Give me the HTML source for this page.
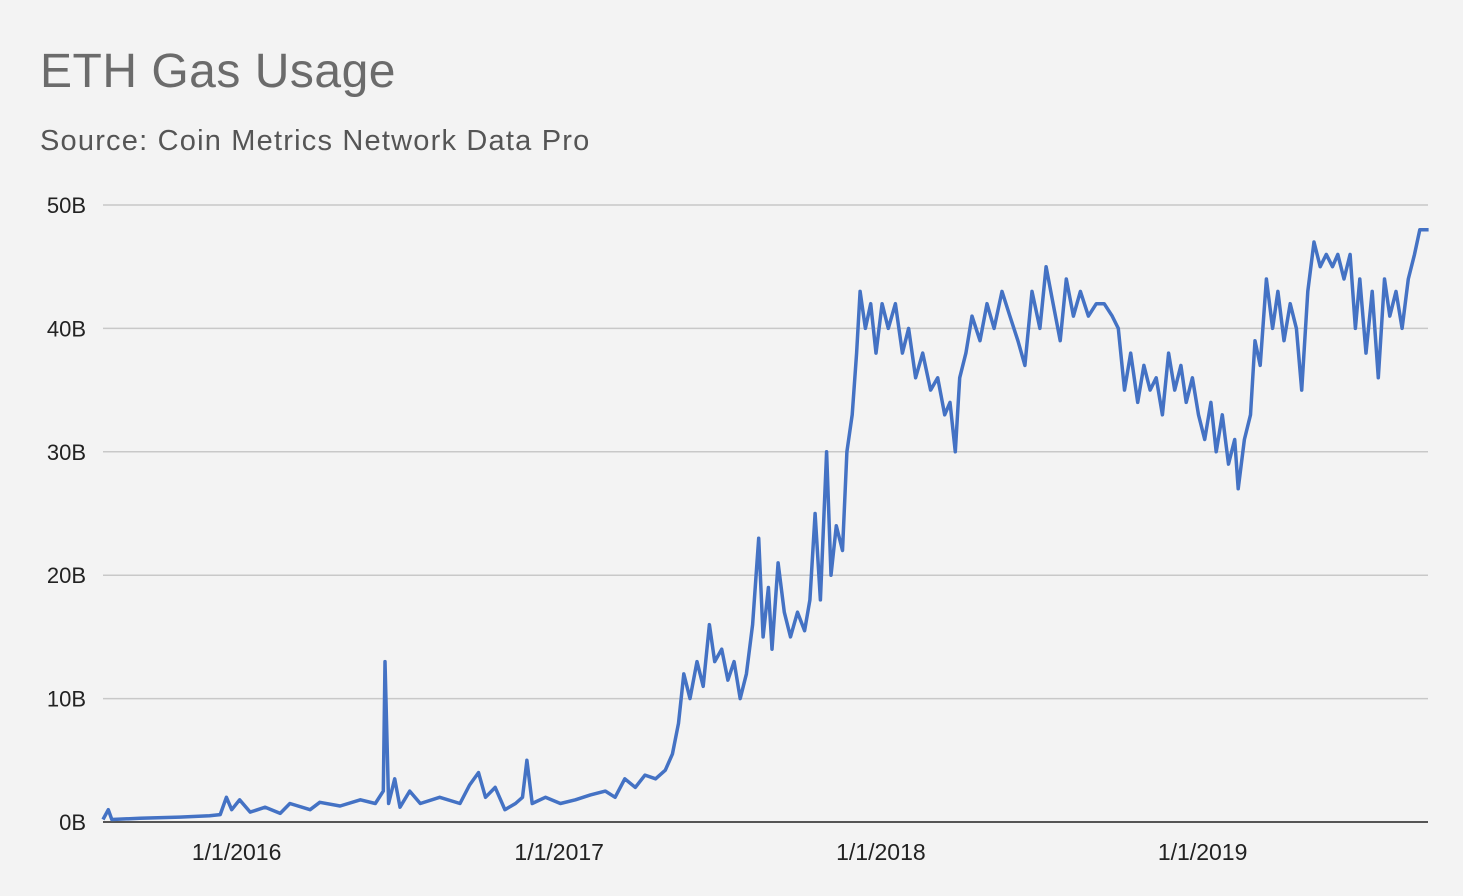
<!DOCTYPE html>
<html><head><meta charset="utf-8">
<style>
html,body{margin:0;padding:0;background:#f3f3f3;}
body{width:1463px;height:891px;overflow:hidden;font-family:"Liberation Sans","DejaVu Sans",sans-serif;}
</style></head>
<body>
<svg id="chart" width="1463" height="891" xmlns="http://www.w3.org/2000/svg">
<rect width="1463" height="891" fill="#f3f3f3"/>
<text x="40" y="87" font-size="48" letter-spacing="0.5" fill="#6b6b6b">ETH Gas Usage</text>
<text x="40" y="150" font-size="29" letter-spacing="1.2" fill="#555">Source: Coin Metrics Network Data Pro</text>
<g id="grid"></g>
<g id="yticks"></g>
<g id="xticks"></g>
<g id="series"></g>
</svg>
<script>
const yTicks=[0,10,20,30,40,50];
const yTickLabels=["0B","10B","20B","30B","40B","50B"];
const xTickDays=[155,521,886,1251];
const xTickLabels=["1/1/2016","1/1/2017","1/1/2018","1/1/2019"];
const days=[0,6,10,42,87,121,133,140,146,155,167,184,201,212,235,246,269,292,309,318,320,324,331,337,348,360,382,405,416,426,434,445,456,468,476,481,487,502,519,536,553,570,581,592,604,615,627,638,646,653,659,666,674,681,688,694,702,709,716,723,730,737,744,749,755,759,766,773,780,788,796,802,808,814,821,826,832,839,844,850,855,859,865,871,877,884,891,899,907,914,922,930,939,947,955,961,967,972,979,986,995,1003,1011,1020,1029,1038,1046,1054,1063,1070,1078,1086,1093,1101,1109,1118,1127,1136,1145,1152,1159,1166,1174,1181,1188,1195,1202,1209,1216,1223,1229,1236,1243,1250,1257,1263,1270,1277,1284,1288,1295,1302,1307,1313,1320,1327,1333,1340,1347,1354,1360,1367,1374,1381,1388,1395,1401,1408,1415,1421,1426,1433,1440,1447,1454,1460,1467,1474,1481,1488,1494,1504];
const values=[0.2,1.0,0.2,0.3,0.4,0.5,0.6,2.0,1.0,1.8,0.8,1.2,0.7,1.5,1.0,1.6,1.3,1.8,1.5,2.5,13,1.5,3.5,1.2,2.5,1.5,2.0,1.5,3.0,4.0,2.0,2.8,1.0,1.5,2.0,5.0,1.5,2.0,1.5,1.8,2.2,2.5,2.0,3.5,2.8,3.8,3.5,4.2,5.5,8,12,10,13,11,16,13,14,11.5,13,10,12,16,23,15,19,14,21,17,15,17,15.5,18,25,18,30,20,24,22,30,33,38,43,40,42,38,42,40,42,38,40,36,38,35,36,33,34,30,36,38,41,39,42,40,43,41,39,37,43,40,45,42,39,44,41,43,41,42,42,41,40,35,38,34,37,35,36,33,38,35,37,34,36,33,31,34,30,33,29,31,27,31,33,39,37,44,40,43,39,42,40,35,43,47,45,46,45,46,44,46,40,44,38,43,36,44,41,43,40,44,46,48,48];
const X0=103,X1=1428,Y0=822,Y1=205;
const xs=d=>X0+d*321.7/365;
const ys=v=>Y0-(v/50)*(Y0-Y1);
const NS="http://www.w3.org/2000/svg";
const grid=document.getElementById('grid'),yt=document.getElementById('yticks'),xt=document.getElementById('xticks'),se=document.getElementById('series');
yTicks.forEach((v,i)=>{
  const l=document.createElementNS(NS,'line');
  
  
  l.setAttribute('x1',X0);l.setAttribute('x2',X1);l.setAttribute('y1',ys(v));l.setAttribute('y2',ys(v));
  l.setAttribute('stroke',v===0?'#555':'#c8c8c8');l.setAttribute('stroke-width',v===0?2:1.5);
  grid.appendChild(l);
  const t=document.createElementNS(NS,'text');
  
  
  t.setAttribute('x',86);t.setAttribute('y',ys(v)+8);t.setAttribute('text-anchor','end');
  t.setAttribute('font-size','22');t.setAttribute('fill','#222');
  t.textContent=yTickLabels[i];yt.appendChild(t);
});
xTickDays.forEach((d,i)=>{
  const t=document.createElementNS(NS,'text');
  
  
  t.setAttribute('x',xs(d)-3);t.setAttribute('y',860);t.setAttribute('text-anchor','middle');
  t.setAttribute('font-size','23');t.setAttribute('fill','#222');
  t.textContent=xTickLabels[i];xt.appendChild(t);
});
const p=document.createElementNS(NS,'path');


p.setAttribute('d',days.map((d,i)=>(i?'L':'M')+xs(d).toFixed(1)+','+ys(values[i]).toFixed(1)).join(''));
p.setAttribute('fill','none');p.setAttribute('stroke','#4472c4');p.setAttribute('stroke-width','3.5');p.setAttribute('stroke-linejoin','round');
se.appendChild(p);
</script>
</body></html>
